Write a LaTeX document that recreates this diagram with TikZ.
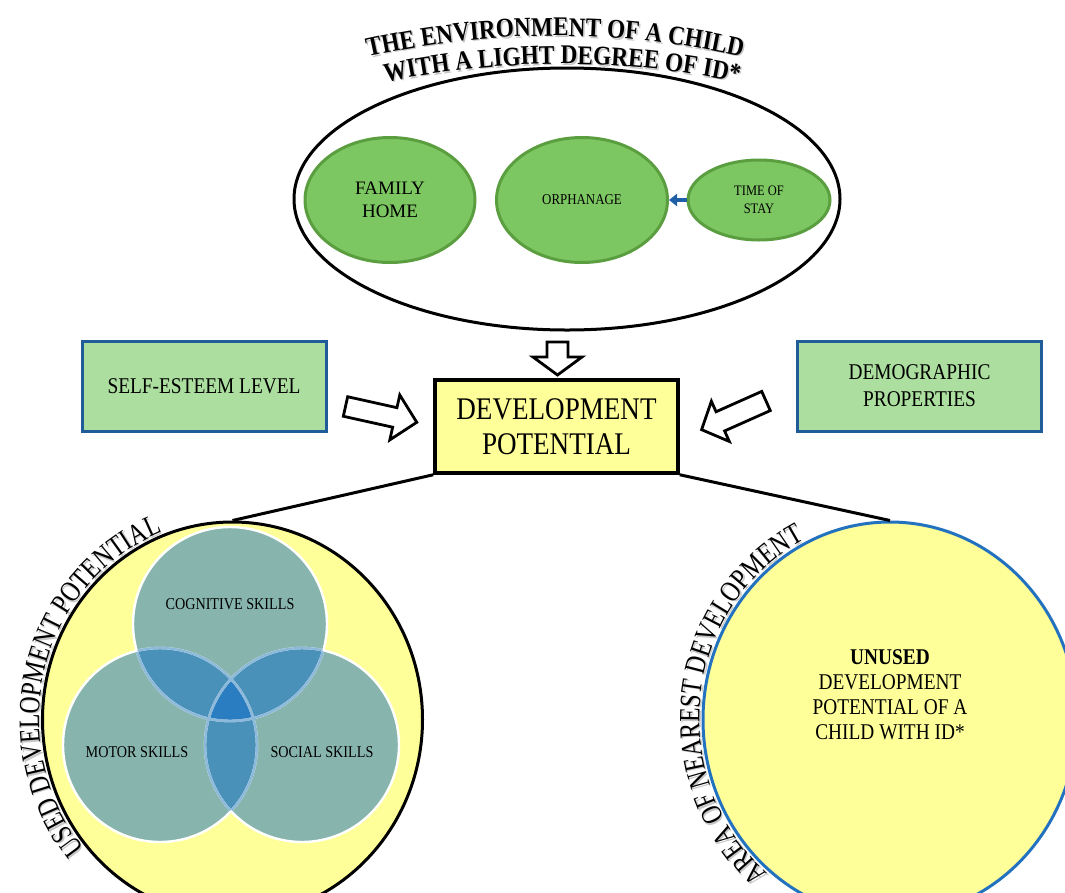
\documentclass[tikz,border=0pt]{standalone}
\usepackage{fontspec}
\setmainfont{Liberation Serif}
\newfontfamily\condfont[FakeStretch=0.86]{Liberation Serif}
\newfontfamily\narrowfont[FakeStretch=0.8]{Liberation Serif}
\usetikzlibrary{shapes.geometric,arrows.meta,decorations.text}
\definecolor{egreen}{HTML}{7DC762}
\definecolor{egreenB}{HTML}{5B9E40}
\definecolor{bgreen}{HTML}{ACDE9F}
\definecolor{bblue}{HTML}{1F5C99}
\definecolor{lyellow}{HTML}{FFFF99}
\definecolor{vteal}{HTML}{87B5AD}
\definecolor{vblue}{HTML}{4A91B9}
\definecolor{vdeep}{HTML}{2B7DC1}
\definecolor{vline}{HTML}{8DB9DB}
\definecolor{rblue}{HTML}{2372C0}
\definecolor{arrblue}{HTML}{1F5FA8}
\newcommand\topfont{\condfont\bfseries\fontsize{27}{27}\selectfont}
\newcommand\arcfont{\narrowfont\fontsize{29.5}{29.5}\selectfont}
\begin{document}
\begin{tikzpicture}[x=1pt,y=1pt,
  env/.style={ellipse, draw=egreenB, fill=egreen, line width=3, inner sep=0, align=center},
  sidebox/.style={rectangle, draw=bblue, fill=bgreen, line width=3, minimum width=244, minimum height=90, align=center, font=\condfont\fontsize{22.5}{27}\selectfont},
  harrow/.style={draw=black, fill=white, line width=2.8, line join=miter},
  link/.style={line width=3, draw=black},
  vtext/.style={font=\condfont\fontsize{16.5}{20}\selectfont, inner sep=0},
]
\useasboundingbox (0,0) rectangle (1065,-892);
\clip (0,0) rectangle (1065,-892);

% ---------- top environment ----------
\node[ellipse, draw, line width=3, minimum width=546, minimum height=262, inner sep=0] (envout) at (567,-199) {};
\node[env, minimum width=170, minimum height=125, font=\fontsize{19}{23}\selectfont] (home) at (390,-200) {FAMILY\\HOME};
\node[env, minimum width=171, minimum height=125, font=\condfont\fontsize{15}{18}\selectfont] (orph) at (582,-200) {ORPHANAGE};
\node[env, minimum width=142, minimum height=80, font=\condfont\fontsize{14.5}{18}\selectfont] (stay) at (759,-200) {TIME OF\\STAY};
\draw[line width=4, arrblue, -{Triangle[length=8pt,width=12pt]}] (stay.west) -- (orph.east);

% arc title (shadow then text)
\path[decorate, decoration={text along path, text align=center, text color=black!22, text={|\topfont|THE ENVIRONMENT OF A CHILD}}] (556.5,-887.5) ++(105:850) arc (105:75:850);
\path[decorate, decoration={text along path, text align=center, text={|\topfont|THE ENVIRONMENT OF A CHILD}}] (555,-886) ++(105:850) arc (105:75:850);
\path[decorate, decoration={text along path, text align=center, text color=black!22, text={|\topfont|WITH A LIGHT DEGREE OF ID*}}] (563.5,-915.5) ++(105:850) arc (105:75:850);
\path[decorate, decoration={text along path, text align=center, text={|\topfont|WITH A LIGHT DEGREE OF ID*}}] (562,-914) ++(105:850) arc (105:75:850);

% ---------- middle row ----------
\node[sidebox] (self) at (204,-386) {SELF-ESTEEM LEVEL};
\node[sidebox] (demo) at (919.5,-386) {DEMOGRAPHIC\\PROPERTIES};
\node[rectangle, draw, fill=lyellow, line width=3.5, minimum width=243, minimum height=93, align=center, font=\condfont\fontsize{31.5}{35}\selectfont] (dp) at (556.5,-426.5) {DEVELOPMENT\\POTENTIAL};

\begin{scope}[shift={(557.5,-342)}, rotate=-90]
  \draw[harrow] (0,-10.5)--(15,-10.5)--(15,-24.5)--(33,0)--(15,24.5)--(15,10.5)--(0,10.5)--cycle;
\end{scope}
\begin{scope}[shift={(345.5,-406.5)}, rotate=-12.5]
  \draw[harrow] (0,-10)--(50.5,-10)--(50.5,-23)--(73,0)--(50.5,23)--(50.5,10)--(0,10)--cycle;
\end{scope}
\begin{scope}[shift={(766,-401)}, rotate=204]
  \draw[harrow] (0,-10.5)--(50,-10.5)--(50,-22)--(70.5,0)--(50,22)--(50,10.5)--(0,10.5)--cycle;
\end{scope}

% ---------- bottom circles ----------
\node[ellipse, draw, fill=lyellow, line width=3, minimum width=380, minimum height=395, inner sep=0] (used) at (232.5,-719.5) {};
\node[ellipse, draw=rblue, fill=lyellow, line width=3, minimum width=374, minimum height=395, inner sep=0] (unused) at (890,-719.5) {};
\draw[link] (dp.south west) -- (used.north);
\draw[link] (dp.south east) -- (unused.north);

% Venn
\coordinate (cA) at (230,-624);
\coordinate (cB) at (160,-745);
\coordinate (cC) at (302,-745);
\fill[vteal] (cA) circle (97);
\fill[vteal] (cB) circle (97);
\fill[vteal] (cC) circle (97);
\begin{scope}
  \clip (cA) circle (97);
  \fill[vblue] (cB) circle (97);
  \fill[vblue] (cC) circle (97);
\end{scope}
\begin{scope}
  \clip (cB) circle (97);
  \fill[vblue] (cC) circle (97);
\end{scope}
\begin{scope}
  \clip (cA) circle (97);
  \clip (cB) circle (97);
  \fill[vdeep] (cC) circle (97);
\end{scope}
\draw[white, line width=2.4] (cA) circle (97) (cB) circle (97) (cC) circle (97);
\begin{scope}
  \clip (cA) circle (96);
  \draw[vline, line width=2.4] (cB) circle (97) (cC) circle (97);
\end{scope}
\begin{scope}
  \clip (cB) circle (96);
  \draw[vline, line width=2.4] (cA) circle (97) (cC) circle (97);
\end{scope}
\begin{scope}
  \clip (cC) circle (96);
  \draw[vline, line width=2.4] (cA) circle (97) (cB) circle (97);
\end{scope}
\node[vtext] (cog) at (230,-604) {COGNITIVE SKILLS};
\node[vtext] (mot) at (137,-752) {MOTOR SKILLS};
\node[vtext] (soc) at (322,-752) {SOCIAL SKILLS};

% arc labels (on ellipses)
\path[decorate, decoration={text along path, text align=center, text color=black!22, text={|\arcfont|USED DEVELOPMENT POTENTIAL}}] (234,-721) ++(232:193.5 and 201) arc[start angle=232, end angle=99, x radius=193.5, y radius=201];
\path[decorate, decoration={text along path, text align=center, text={|\arcfont|USED DEVELOPMENT POTENTIAL}}] (232.5,-719.5) ++(232:193.5 and 201) arc[start angle=232, end angle=99, x radius=193.5, y radius=201];
\path[decorate, decoration={text along path, text align=center, text color=black!22, text={|\arcfont|AREA OF NEAREST DEVELOPMENT}}] (891.5,-721) ++(240:190.5 and 201) arc[start angle=240, end angle=106.5, x radius=190.5, y radius=201];
\path[decorate, decoration={text along path, text align=center, text={|\arcfont|AREA OF NEAREST DEVELOPMENT}}] (890,-719.5) ++(240:190.5 and 201) arc[start angle=240, end angle=106.5, x radius=190.5, y radius=201];

\node[align=center, font=\condfont\fontsize{22.5}{25}\selectfont, inner sep=0] (ut) at (890,-695) {\textbf{UNUSED}\\DEVELOPMENT\\POTENTIAL OF A\\CHILD WITH ID*};
\end{tikzpicture}
\end{document}
